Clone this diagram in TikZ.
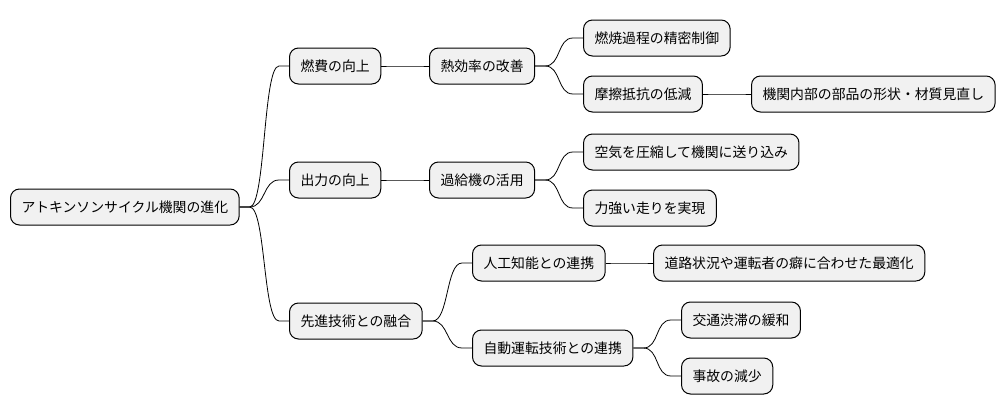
\documentclass[tikz,border=0pt]{standalone}
\usepackage{fontspec}
\newfontfamily\jpfont{Noto Sans CJK JP}
\usetikzlibrary{calc, positioning}

\definecolor{boxfill}{HTML}{F1F1F1}

\begin{document}
\begin{tikzpicture}[
  x=1pt, y=-1pt,
  topic/.style={draw, line width=1pt, fill=boxfill, rounded corners=9pt,
    minimum height=36pt, inner xsep=11pt, anchor=west,
    font=\jpfont\fontsize{13.85}{16}\selectfont},
  link/.style={line width=0.8pt}]

  \useasboundingbox (0,0) rectangle (1006,415);

  % root
  \node[topic] (root) at (10,207) {アトキンソンサイクル機関の進化};

  % level 1
  \node[topic] (fuel) at (289,66) {燃費の向上};
  \node[topic] (power) at (289,180) {出力の向上};
  \node[topic] (tech) at (289,321) {先進技術との融合};

  % level 2
  \node[topic] (thermal) at (429,66) {熱効率の改善};
  \node[topic] (turbo) at (429,180) {過給機の活用};
  \node[topic] (ai) at (472,263) {人工知能との連携};
  \node[topic] (auto) at (472,348) {自動運転技術との連携};

  % level 3
  \node[topic] (combust) at (583,38) {燃焼過程の精密制御};
  \node[topic] (friction) at (583,94) {摩擦抵抗の低減};
  \node[topic] (air) at (583,152) {空気を圧縮して機関に送り込み};
  \node[topic] (drive) at (583,208) {力強い走りを実現};
  \node[topic] (road) at (653,263) {道路状況や運転者の癖に合わせた最適化};
  \node[topic] (traffic) at (681,320) {交通渋滞の緩和};
  \node[topic] (accident) at (681,376) {事故の減少};

  % level 4
  \node[topic] (parts) at (751,94) {機関内部の部品の形状・材質見直し};

  % connectors
  \foreach \a/\b in {root/fuel, root/power, root/tech,
      fuel/thermal, power/turbo, tech/ai, tech/auto,
      thermal/combust, thermal/friction, friction/parts,
      turbo/air, turbo/drive, ai/road, auto/traffic, auto/accident}
    \draw[link] (\a.east) -- ++(10,0)
      .. controls +(16,0) and +(-16,0) .. ($(\b.west)+(-10,0)$) -- (\b.west);
\end{tikzpicture}
\end{document}
